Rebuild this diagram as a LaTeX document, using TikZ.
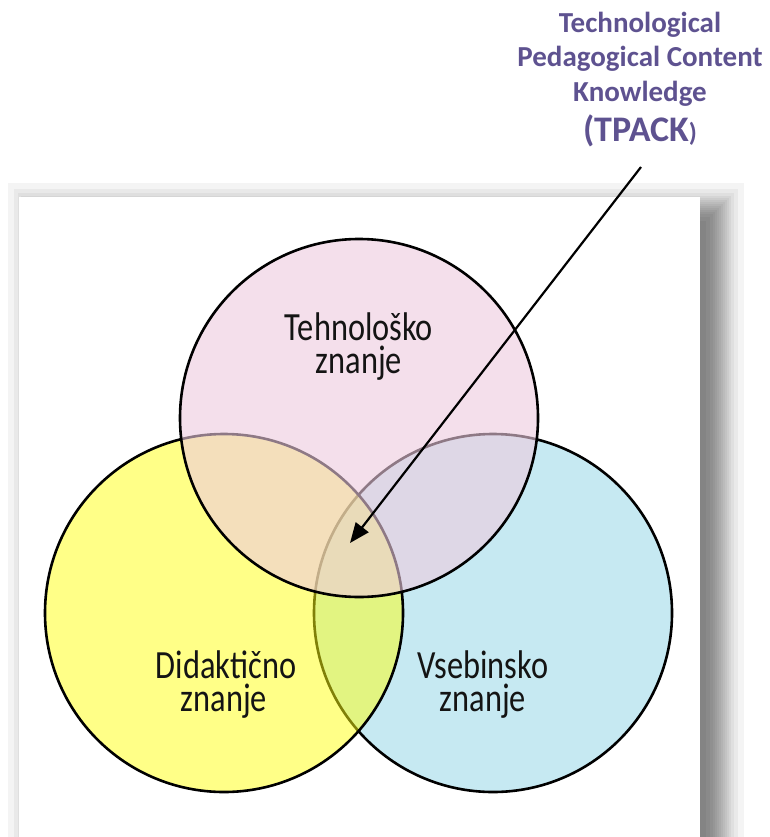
\documentclass[tikz,border=0pt]{standalone}
\usepackage{fontspec}
\setmainfont{Carlito}
\newfontfamily\labelfont[FakeStretch=0.81]{Carlito}
\usetikzlibrary{arrows.meta}

\definecolor{tpackpurple}{RGB}{94,82,144}
\definecolor{techpink}{RGB}{238,203,223}
\definecolor{didyellow}{RGB}{255,255,17}
\definecolor{vsebblue}{RGB}{198,233,242}
\definecolor{labelgray}{RGB}{20,20,20}

\begin{document}
\begin{tikzpicture}[x=1pt,y=-1pt,
  ring/.style={circle, draw=black, line width=2.6pt, minimum size=358pt, inner sep=0pt},
  lbl/.style={font=\labelfont\fontsize{40}{33}\selectfont, text=labelgray, anchor=base, inner sep=0pt},
  ttl/.style={font=\bfseries\fontsize{29}{34}\selectfont, text=tpackpurple, anchor=base, inner sep=0pt},
  pointer/.style={line width=2.2pt, -{Triangle[length=20pt, width=16pt]}}]
\useasboundingbox (0,0) rectangle (770,837);

% soft drop shadow: a blurred box built from stacked translucent layers
\foreach \z in {-1.863,-1.318,-1.010,-0.776,-0.579,-0.402,-0.237,-0.078,
                 0.078, 0.237, 0.402, 0.579, 0.776, 1.010, 1.318, 1.863}{
  \fill[black, fill opacity=0.042] ({30-12*\z},{205-12*\z}) rectangle ({722+12*\z},837);
}
\fill[white] (19,197) rectangle (700,837);

% the three knowledge domains
\node[ring, fill=vsebblue] (content) at (493,613) {};
\node[ring, fill=didyellow, fill opacity=0.5, draw opacity=1] (pedagogy) at (224,613) {};
\node[ring, fill=techpink, fill opacity=0.6, draw opacity=1] (technology) at (359,418) {};

% circle labels
\node[lbl] (tech1) at (359,340) {Tehnološko};
\node[lbl] (tech2) at (359,373) {znanje};
\node[lbl] (ped1) at (226,678) {Didaktično};
\node[lbl] (ped2) at (224,711) {znanje};
\node[lbl] (con1) at (483,678) {Vsebinsko};
\node[lbl] (con2) at (483,711) {znanje};

% TPACK caption
\node[ttl] (cap1) at (640,33) {Technological};
\node[ttl] (cap2) at (640,67) {Pedagogical Content};
\node[ttl] (cap3) at (640,102) {Knowledge};
\node[ttl] (cap4) at (640,142) {{\fontsize{36}{40}\selectfont(TPACK}{\fontsize{26}{30}\selectfont)}};

% pointer to the common intersection
\coordinate (tail) at (641,167);
\coordinate (core) at (350,543);
\draw[pointer] (tail) -- (core);
\end{tikzpicture}
\end{document}
